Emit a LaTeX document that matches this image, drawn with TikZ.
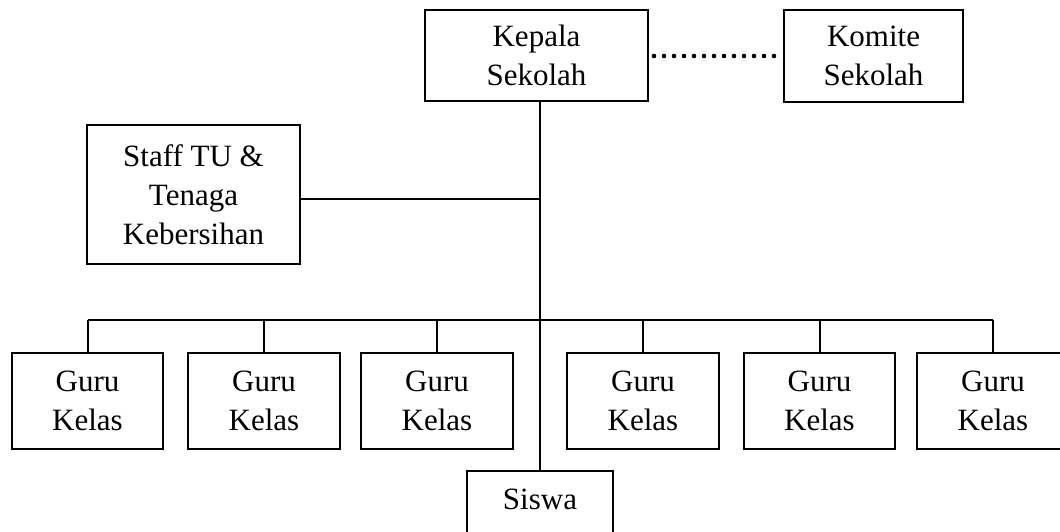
\documentclass[tikz,border=0pt]{standalone}
\usepackage{fontspec}
\setmainfont{Liberation Serif}
\begin{document}
\begin{tikzpicture}[x=1pt,y=-1pt,
  box/.style={draw=black, line width=2pt, fill=white, inner sep=0pt, align=center,
    font=\fontsize{31}{39}\selectfont},
  conn/.style={draw=black, line width=2pt},
  dotline/.style={draw=black, line width=4.6pt, line cap=round, dash pattern=on 0pt off 10pt}]
\useasboundingbox (0,0) rectangle (1060,532);
\clip (0,0) rectangle (1060,532);
\fill[white] (0,0) rectangle (1060,532);
% coordinates
\coordinate (sj) at (540,199);
\coordinate (bus) at (540,320);
% nodes
\node[box, minimum width=223pt, minimum height=91pt] (kepala) at (536.5,55.5) {Kepala\\Sekolah};
\node[box, minimum width=179pt, minimum height=92pt] (komite) at (873.5,56) {Komite\\Sekolah};
\node[box, minimum width=213pt, minimum height=139pt] (staff) at (193.5,194.5) {Staff TU \&\\Tenaga\\Kebersihan};
\node[box, minimum width=151pt, minimum height=96pt] (g1) at (87.5,401) {Guru\\Kelas};
\node[box, minimum width=152pt, minimum height=96pt] (g2) at (264,401) {Guru\\Kelas};
\node[box, minimum width=152pt, minimum height=96pt] (g3) at (437,401) {Guru\\Kelas};
\node[box, minimum width=152pt, minimum height=96pt] (g4) at (643,401) {Guru\\Kelas};
\node[box, minimum width=151pt, minimum height=96pt] (g5) at (819.5,401) {Guru\\Kelas};
\node[box, minimum width=152pt, minimum height=96pt] (g6) at (993,401) {Guru\\Kelas};
\node[box, minimum width=146pt, minimum height=70pt, anchor=north, text height=20pt, text depth=14pt] (siswa) at (540,470) {Siswa};
% connectors
\draw[dotline] ([xshift=5pt]kepala.east |- 0,56) -- (komite.west |- 0,56);
\draw[conn] (siswa.north) -- (siswa.north |- kepala.south);
\draw[conn] (staff.east |- sj) -- (sj);
\draw[conn] (g1.north |- bus) -- (g6.north |- bus);
\foreach \g in {g1,g2,g3,g4,g5,g6} {
  \draw[conn] (\g.north) -- (\g.north |- bus);
}
\end{tikzpicture}
\end{document}
